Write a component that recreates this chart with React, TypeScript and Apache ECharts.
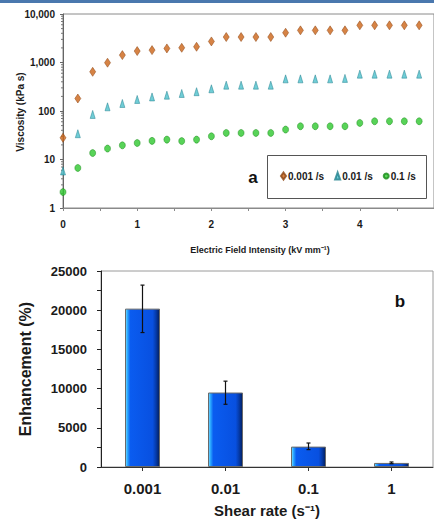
import React, { useEffect, useRef } from "react";
import * as echarts from "echarts";

// ---- Panel a: viscosity vs electric field ----
const fieldKV = [0, 0.2, 0.4, 0.6, 0.8, 1.0, 1.2, 1.4, 1.6, 1.8, 2.0, 2.2, 2.4, 2.6, 2.8, 3.0, 3.2, 3.4, 3.6, 3.8, 4.0, 4.2, 4.4, 4.6, 4.8];
const visc0001 = [28, 181, 643, 990, 1420, 1720, 1800, 1950, 2010, 2110, 2720, 3350, 3350, 3350, 3350, 4110, 4600, 4600, 4600, 4600, 5840, 5840, 5840, 5840, 5840];
const visc001 = [5.8, 34, 85, 122, 143, 173, 195, 212, 230, 250, 287, 341, 341, 341, 341, 460, 460, 460, 460, 470, 575, 575, 575, 575, 575];
const visc01 = [2.13, 6.7, 13.6, 16.8, 19.6, 21.9, 24.2, 25.7, 24.0, 25.7, 30.1, 35.3, 35.3, 35.3, 35.3, 41.4, 48.5, 48.5, 48.5, 48.5, 56.8, 61.5, 61.5, 61.5, 61.5];
const seriesNames = ["0.001 /s", "0.01 /s", "0.1 /s"];
const logDecades = [1, 10, 100, 1000];
const logMinorSteps = [2, 3, 4, 5, 6, 7, 8, 9];

// ---- Panel b: enhancement vs shear rate ----
const shearRates = ["0.001", "0.01", "0.1", "1"];
const enhancement = [20200, 9500, 2600, 520];
const enhLow = [17150, 8000, 2220, 420];
const enhHigh = [23200, 10950, 3060, 640];

const FONT = "'Liberation Sans', Arial, sans-serif";

export default function App() {
  const ref = useRef<HTMLDivElement>(null);
  useEffect(() => {
    if (!ref.current) return;
    const chart = echarts.init(ref.current, undefined, { renderer: "svg" });

    const minorTickData: number[][] = [];
    logDecades.forEach((d) => logMinorSteps.forEach((k) => minorTickData.push([0, d * k])));

    const barGradient = new echarts.graphic.LinearGradient(0, 0, 1, 0, [
      { offset: 0, color: "#7fe0ff" },
      { offset: 0.06, color: "#2aa8ff" },
      { offset: 0.14, color: "#0a5cf0" },
      { offset: 0.8, color: "#0850e0" },
      { offset: 0.9, color: "#053aa8" },
      { offset: 1, color: "#021e5c" },
    ]);

    const boldLabel = { fontFamily: FONT, fontWeight: "bold" as const, color: "#1a1a1a" };

    chart.setOption({
      animation: false,
      backgroundColor: "#ffffff",
      grid: [
        { left: 63, top: 14, width: 375, height: 194, show: true, borderColor: "#8a8a8a", borderWidth: 1, containLabel: false },
        { left: 101, top: 271, width: 332, height: 196, show: true, borderColor: "#9a9a9a", borderWidth: 1, containLabel: false },
      ],
      xAxis: [
        {
          gridIndex: 0,
          type: "value",
          min: 0,
          max: 5,
          interval: 0.5,
          splitLine: { show: false },
          axisLine: { show: true, lineStyle: { color: "#8a8a8a" } },
          axisTick: { show: true, inside: false, length: 3, lineStyle: { color: "#8a8a8a" } },
          axisLabel: {
            ...boldLabel,
            fontSize: 10,
            margin: 11,
            showMaxLabel: false,
            formatter: (v: number) => (Number.isInteger(v) ? String(v) : ""),
          },
        },
        {
          gridIndex: 1,
          type: "category",
          data: shearRates,
          axisLine: { show: true, lineStyle: { color: "#333" } },
          axisTick: { show: true, alignWithLabel: true, length: 4, lineStyle: { color: "#333" } },
          axisLabel: { ...boldLabel, fontSize: 15, margin: 14 },
        },
      ],
      yAxis: [
        {
          gridIndex: 0,
          type: "log",
          logBase: 10,
          min: 1,
          max: 10000,
          splitLine: { show: false },
          axisLine: { show: true, lineStyle: { color: "#666" } },
          axisTick: { show: true, length: 3, lineStyle: { color: "#666" } },
          axisLabel: {
            ...boldLabel,
            fontSize: 10,
            margin: 8,
            formatter: (v: number) => Math.round(v).toLocaleString("en-US"),
          },
        },
        {
          gridIndex: 1,
          type: "value",
          min: 0,
          max: 25000,
          interval: 5000,
          splitLine: { show: false },
          axisLine: { show: true, lineStyle: { color: "#222" } },
          axisTick: { show: true, length: 4, lineStyle: { color: "#222" } },
          minorTick: { show: true, splitNumber: 2, length: 4, lineStyle: { color: "#222" } },
          axisLabel: { ...boldLabel, fontSize: 13, margin: 14, formatter: (v: number) => String(v) },
        },
      ],
      legend: {
        data: seriesNames,
        left: 280,
        top: 171,
        orient: "horizontal",
        itemWidth: 5,
        itemHeight: 7,
        itemGap: 10,
        padding: 0,
        textStyle: { ...boldLabel, fontSize: 10, padding: [0, 0, 0, -3] },
        z: 5,
      },
      series: [
        {
          name: seriesNames[0],
          type: "scatter",
          xAxisIndex: 0,
          yAxisIndex: 0,
          symbol: "diamond",
          symbolSize: [6, 9],
          itemStyle: { color: "#cc6416", borderColor: "#8a4210", borderWidth: 0.6 },
          data: fieldKV.map((x, i) => [x, visc0001[i]]),
        },
        {
          name: seriesNames[1],
          type: "scatter",
          xAxisIndex: 0,
          yAxisIndex: 0,
          symbol: "triangle",
          symbolSize: [5, 8],
          itemStyle: { color: "#4cc0cc", borderColor: "#1f7f8c", borderWidth: 0.6 },
          data: fieldKV.map((x, i) => [x, visc001[i]]),
        },
        {
          name: seriesNames[2],
          type: "scatter",
          xAxisIndex: 0,
          yAxisIndex: 0,
          symbol: "circle",
          symbolSize: [6, 7],
          itemStyle: { color: "#2ec82e", borderColor: "#188a18", borderWidth: 0.6 },
          data: fieldKV.map((x, i) => [x, visc01[i]]),
        },
        {
          type: "custom",
          xAxisIndex: 0,
          yAxisIndex: 0,
          silent: true,
          clip: false,
          data: minorTickData,
          renderItem: (_p: any, api: any) => {
            const pt = api.coord([0, api.value(1)]);
            return {
              type: "line",
              shape: { x1: pt[0] - 2, y1: pt[1], x2: pt[0], y2: pt[1] },
              style: { stroke: "#777", lineWidth: 1 },
            };
          },
        },
        {
          name: "Enhancement",
          type: "bar",
          xAxisIndex: 1,
          yAxisIndex: 1,
          barWidth: 35,
          itemStyle: { color: barGradient, borderColor: "#6a6a6a", borderWidth: 1 },
          data: enhancement,
        },
        {
          type: "custom",
          xAxisIndex: 1,
          yAxisIndex: 1,
          silent: true,
          clip: false,
          z: 5,
          data: shearRates.map((_, i) => [i, enhLow[i], enhHigh[i]]),
          renderItem: (_p: any, api: any) => {
            const idx = api.value(0);
            const lo = api.coord([idx, api.value(1)]);
            const hi = api.coord([idx, api.value(2)]);
            const st = { stroke: "#111", lineWidth: 1.2 };
            return {
              type: "group",
              children: [
                { type: "line", shape: { x1: lo[0], y1: lo[1], x2: hi[0], y2: hi[1] }, style: st },
                { type: "line", shape: { x1: hi[0] - 2, y1: hi[1], x2: hi[0] + 2, y2: hi[1] }, style: st },
                { type: "line", shape: { x1: lo[0] - 2, y1: lo[1], x2: lo[0] + 2, y2: lo[1] }, style: st },
              ],
            };
          },
        },
      ],
      graphic: [
        { type: "rect", z: 10, shape: { x: 0, y: 0, width: 434, height: 3 }, style: { fill: "#4a78ae" } },
        {
          type: "rect",
          z: 3,
          shape: { x: 267.5, y: 155.5, width: 159, height: 43 },
          style: { fill: "#ffffff", stroke: "#555", lineWidth: 1 },
        },
        {
          type: "text",
          x: 253,
          y: 177,
          style: { text: "a", font: `bold 17px ${FONT}`, fill: "#111", align: "center", verticalAlign: "middle" },
        },
        {
          type: "text",
          x: 20,
          y: 112,
          rotation: Math.PI / 2,
          style: { text: "Viscosity (kPa s)", font: `bold 10px ${FONT}`, fill: "#1a1a1a", align: "center", verticalAlign: "middle" },
        },
        {
          type: "text",
          x: 260,
          y: 250,
          style: { text: "Electric Field Intensity (kV mm⁻¹)", font: `bold 9px ${FONT}`, fill: "#1a1a1a", align: "center", verticalAlign: "middle" },
        },
        {
          type: "text",
          x: 400,
          y: 301,
          style: { text: "b", font: `bold 17px ${FONT}`, fill: "#111", align: "center", verticalAlign: "middle" },
        },
        {
          type: "text",
          x: 25,
          y: 369,
          rotation: Math.PI / 2,
          style: { text: "Enhancement (%)", font: `bold 16px ${FONT}`, fill: "#1a1a1a", align: "center", verticalAlign: "middle" },
        },
        {
          type: "text",
          x: 267,
          y: 510,
          style: { text: "Shear rate (s⁻¹)", font: `bold 15px ${FONT}`, fill: "#1a1a1a", align: "center", verticalAlign: "middle" },
        },
      ],
    });
    return () => chart.dispose();
  }, []);

  return (
    <div
      ref={ref}
      style={{ position: "fixed", left: 0, top: 0, width: 434, height: 519, overflow: "hidden", background: "#fff" }}
    />
  );
}
